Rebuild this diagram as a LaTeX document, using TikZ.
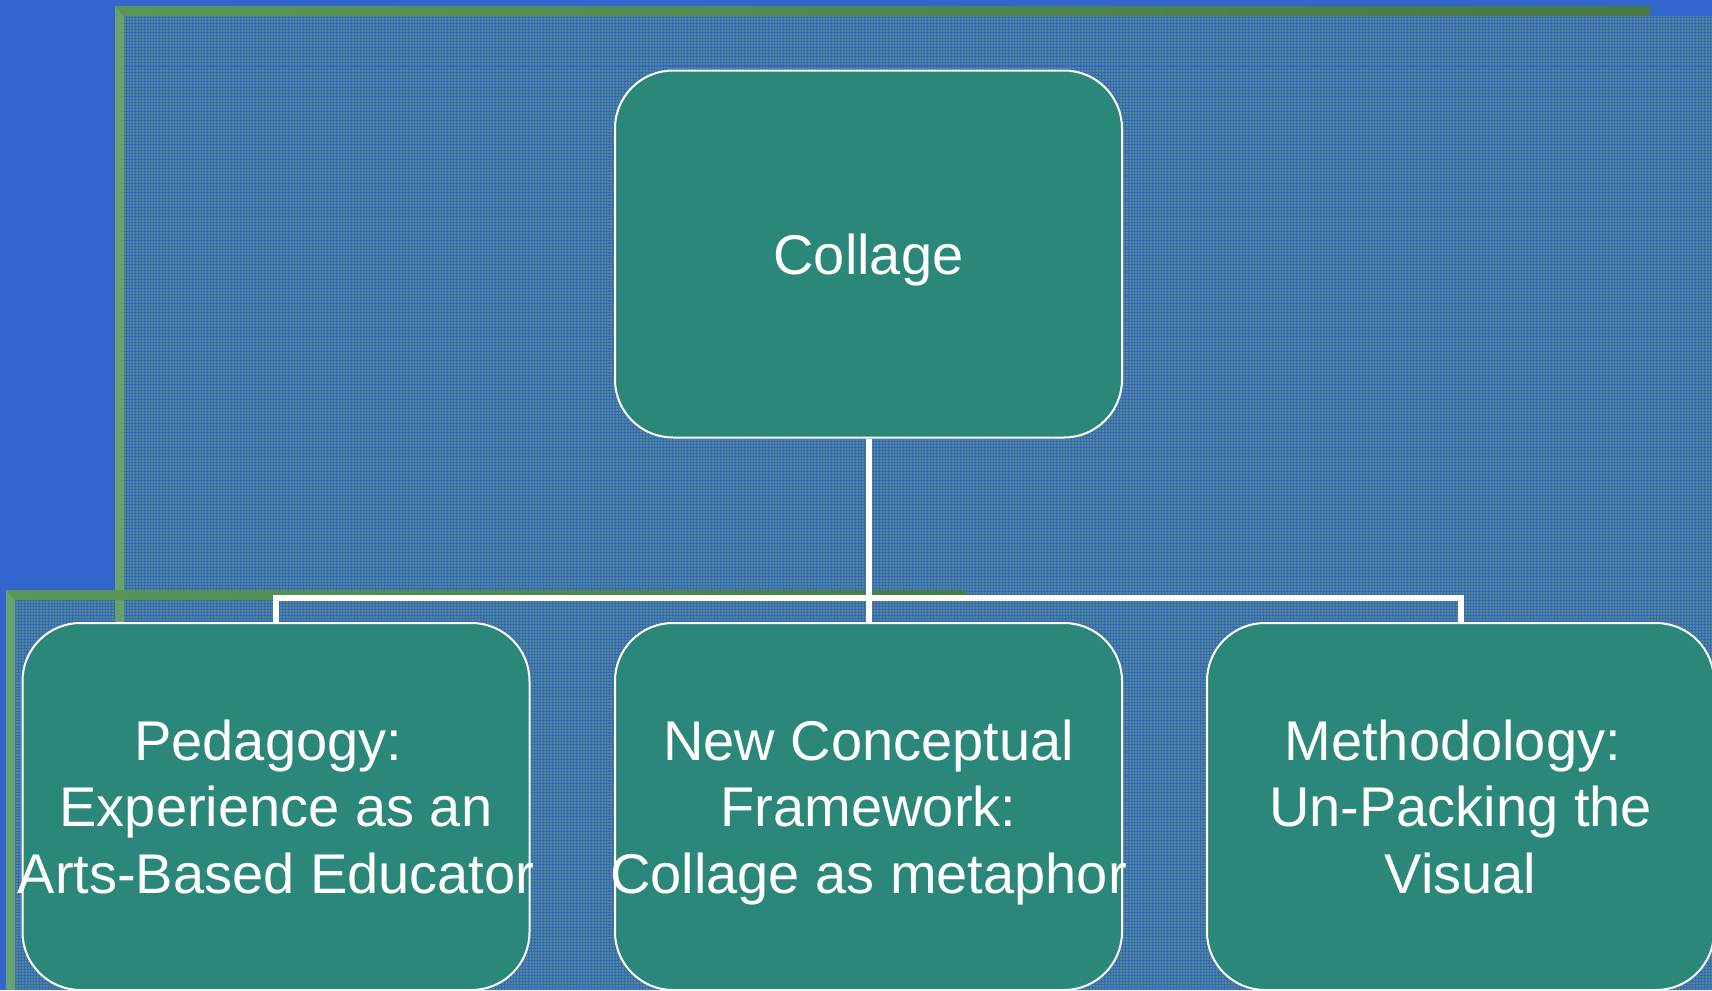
\documentclass[tikz,border=0pt]{standalone}
\usepackage{fontspec}
\newfontfamily\cardfont{Liberation Sans}
\definecolor{slideblue}{RGB}{51,102,204}
\definecolor{meshgreen}{RGB}{85,140,120}
\definecolor{framegreen}{RGB}{90,150,90}
\definecolor{framedark}{RGB}{70,120,72}
\definecolor{framelight}{RGB}{104,162,110}
\definecolor{cardteal}{RGB}{43,135,122}
\newcommand{\trail}{\hspace*{.28em}}
\tikzset{
  card/.style={draw=white, line width=2pt, fill=cardteal, rounded corners=58pt,
    minimum width=507pt, minimum height=367pt, inner sep=0pt},
  cardtext/.style={text=white, align=center, inner sep=0pt, text depth=0pt,
    font=\cardfont\fontsize{56}{66.5}\selectfont},
  link/.style={draw=white, line width=6pt}
}
\begin{document}
\begin{tikzpicture}[x=1pt,y=-1pt]
  \useasboundingbox (0,0) rectangle (1712,990);
  % Background
  \fill[slideblue] (0,0) rectangle (1712,990);
  % Mesh panels
  \fill[meshgreen] (124,16) rectangle (1712,990);
  \fill[meshgreen] (15,600) rectangle (1712,990);
  \begin{scope}
    \clip (124,16) rectangle (1712,990) (15,600) rectangle (1712,990);
    \foreach \i in {0,3,...,1713}
      \draw[slideblue,line width=1pt] (\i,0) -- (\i,990);
    \foreach \j in {0,3,...,990}
      \draw[slideblue,line width=1pt] (0,\j) -- (1712,\j);
  \end{scope}
  % Frames
  \shade[left color=framegreen,right color=framedark]
    (115,6) -- (1650,6) -- (1650,16) -- (124,16) -- cycle;
  \fill[framelight] (115,6) -- (124,16) -- (124,990) -- (115,990) -- cycle;
  \shade[left color=framegreen,right color=framedark!90!framegreen]
    (6,590) -- (965,590) -- (965,600) -- (15,600) -- cycle;
  \fill[framelight] (6,590) -- (15,600) -- (15,990) -- (6,990) -- cycle;
  % Cards
  \node[card] (collage) at (868.5,254) {};
  \node[card] (pedagogy) at (276,806.5) {};
  \node[card] (framework) at (868.5,806.5) {};
  \node[card] (method) at (1460.5,806.5) {};
  % Connectors
  \coordinate (bus) at (868.5,598);
  \draw[link] (collage.south) -- (bus);
  \draw[link] (pedagogy.north) |- (bus) -| (method.north);
  \draw[link] (framework.north) -- (bus);
  % Labels
  \node[cardtext] (collage-text) at (collage) {Collage};
  \node[cardtext] (pedagogy-text) at (pedagogy)
    {Pedagogy:\trail\\Experience as an\trail\\Arts-Based Educator};
  \node[cardtext] (framework-text) at (framework)
    {New Conceptual\\Framework:\\Collage as metaphor};
  \node[cardtext] (method-text) at (method)
    {Methodology:\trail\\Un-Packing the\\Visual};
\end{tikzpicture}
\end{document}
